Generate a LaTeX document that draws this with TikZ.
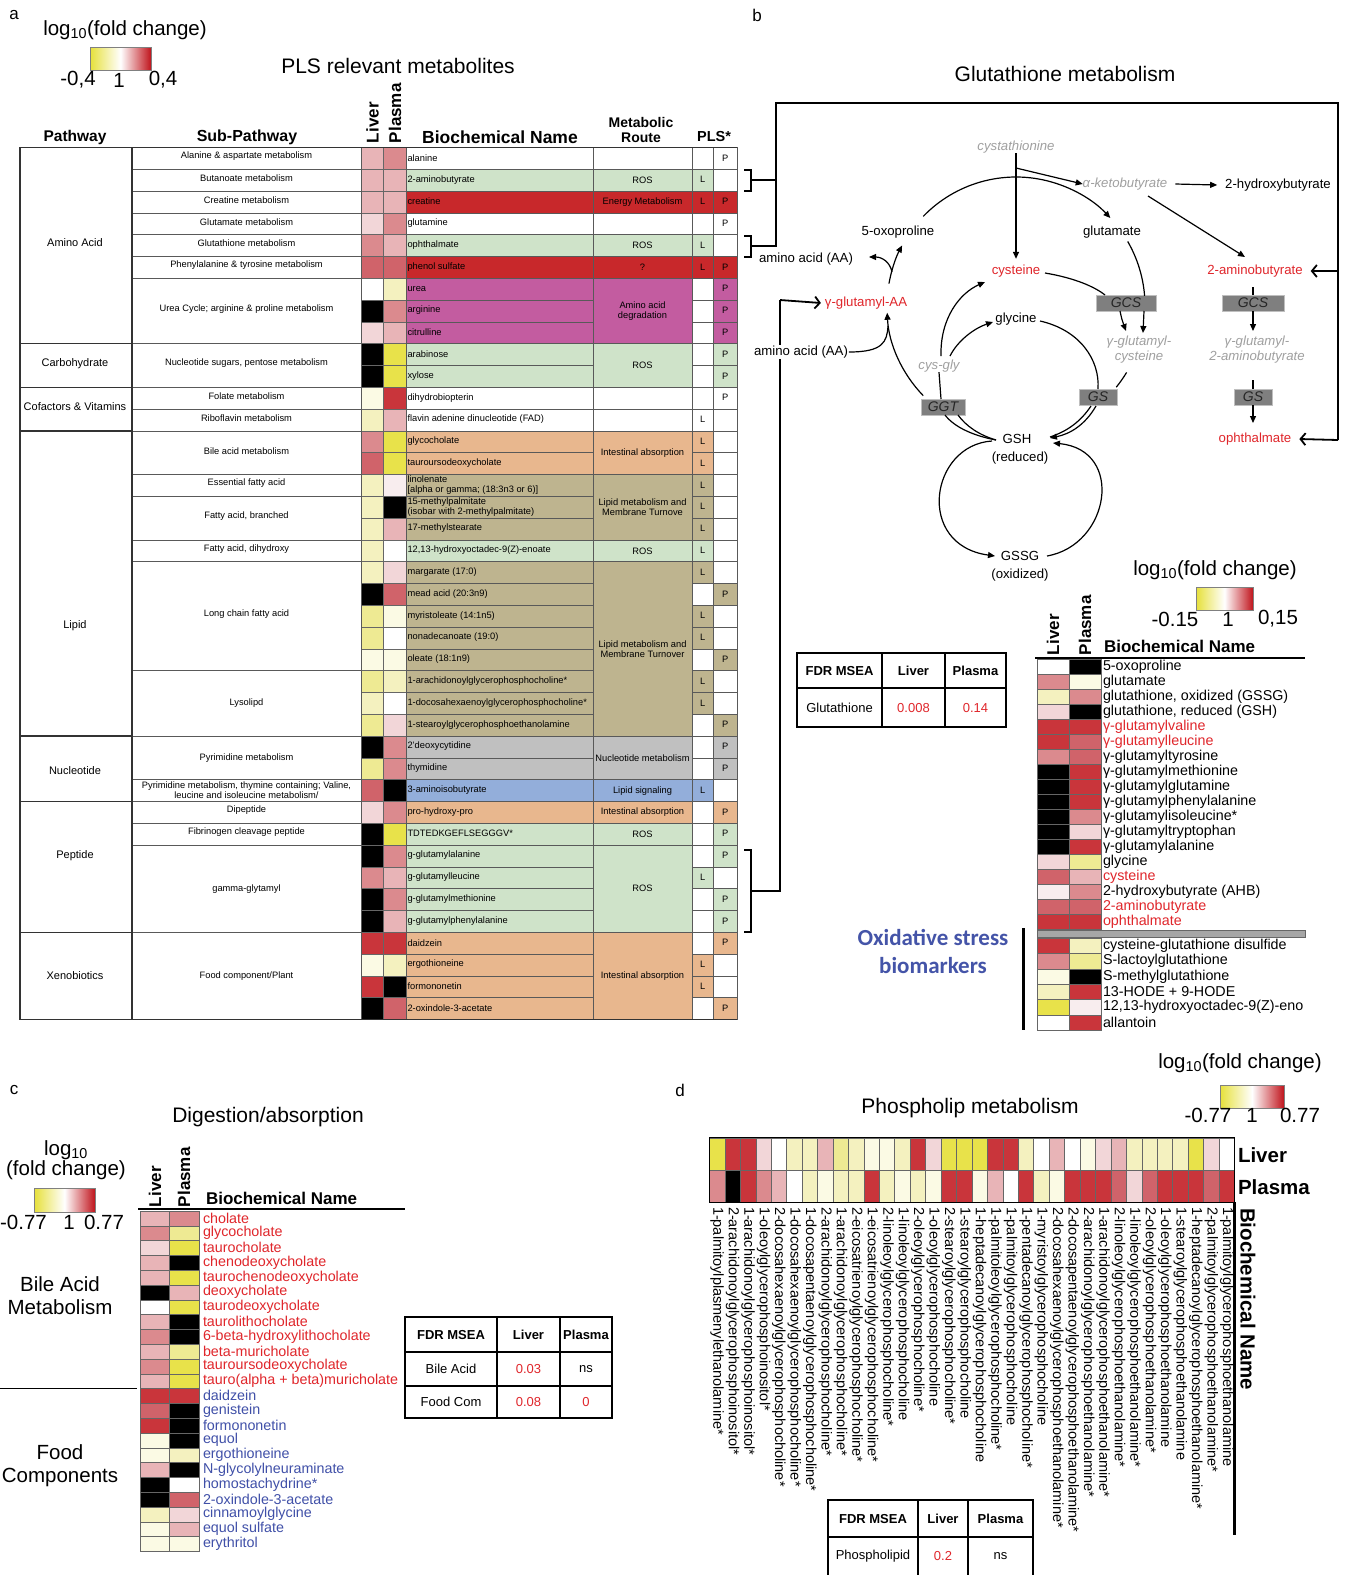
\documentclass[tikz,border=0pt]{standalone}
\usepackage{fontspec}
\setmainfont{Liberation Sans}
\newfontfamily\carlito{Carlito}
\usetikzlibrary{arrows.meta}
\definecolor{hY3}{HTML}{E8E24A}
\definecolor{hY2}{HTML}{EEEA93}
\definecolor{hY1}{HTML}{F4F1BF}
\definecolor{hY0}{HTML}{FBFAE4}
\definecolor{hW}{HTML}{FFFFFF}
\definecolor{hR0}{HTML}{F8EDEE}
\definecolor{hR1}{HTML}{F2D6D8}
\definecolor{hR2}{HTML}{E8B4B7}
\definecolor{hR3}{HTML}{DB8A8E}
\definecolor{hR4}{HTML}{D0636A}
\definecolor{hR5}{HTML}{C9353B}
\definecolor{hK}{HTML}{000000}
\definecolor{cG}{HTML}{CFE3C9}
\definecolor{cR}{HTML}{C8282B}
\definecolor{cM}{HTML}{C35CA0}
\definecolor{cO}{HTML}{E8B78E}
\definecolor{cT}{HTML}{BEB48F}
\definecolor{cGr}{HTML}{C0C0C0}
\definecolor{cB}{HTML}{93AEDA}
\definecolor{txR}{HTML}{E0262B}
\definecolor{txB}{HTML}{4050A8}
\definecolor{txG}{HTML}{A0A0A0}
\definecolor{enz}{HTML}{7F7F7F}
\definecolor{oxb}{HTML}{4454A8}
\definecolor{cbY}{HTML}{E6E03A}
\definecolor{cbR}{HTML}{C0141C}
\tikzset{
 every node/.style={inner sep=0pt,outer sep=0pt},
 hcell/.style={draw=black!60, line width=0.6pt},
 tline/.style={draw=black!65, line width=0.7pt},
 tlineb/.style={draw=black!80, line width=1.3pt},
 ts/.style={font=\fontsize{9.3}{10}\selectfont},
 tp/.style={font=\fontsize{11}{13}\selectfont},
 hdr/.style={font=\bfseries\fontsize{15.5}{17}\selectfont},
 ttl/.style={font=\fontsize{21}{24}\selectfont},
 lg/.style={font=\fontsize{20.5}{24}\selectfont},
 plab/.style={font=\fontsize{17}{20}\selectfont},
 pw/.style={font=\fontsize{13.2}{15}\selectfont},
 pwg/.style={font=\itshape\fontsize{13.2}{15}\selectfont, text=txG},
 enzyme/.style={fill=enz, draw=black!25, line width=0.8pt, minimum height=16pt, minimum width=44pt, font=\itshape\fontsize{14}{15}\selectfont, text=black!85},
 arr/.style={-{Triangle[length=7pt,width=6pt]}, line width=1.2pt},
 ln/.style={line width=1.2pt},
 barb/.style={-{Straight Barb[length=5pt,width=12pt]}, line width=1.8pt},
 brk/.style={line width=1.8pt},
 hn/.style={font=\fontsize{14.3}{15}\selectfont},
 hb/.style={font=\bfseries\fontsize{17}{20}\selectfont},
 ftab/.style={draw=black, line width=1.2pt},
 ft/.style={font=\fontsize{13}{15}\selectfont},
 fth/.style={font=\bfseries\fontsize{13}{15}\selectfont},
 dl/.style={font=\fontsize{14.5}{15}\selectfont},
 dh/.style={font=\bfseries\fontsize{20.5}{23}\selectfont},
 cbar/.style={left color=cbY, right color=cbR, middle color=white, draw=black!50, line width=0.5pt},
 big/.style={font=\fontsize{20.5}{23}\selectfont, align=center},
}
\newcommand\arow[9]{%
 \pgfmathsetmacro\yt{147.5+21.8*#1}%
 \pgfmathsetmacro\yb{\yt+21.8}%
 \pgfmathsetmacro\ym{\yt+10.4}%
 \draw[hcell, fill=h#2] (361,\yt) rectangle (383.5,\yb);
 \draw[hcell, fill=h#3] (383.5,\yt) rectangle (406,\yb);
 \draw[tline, fill=#4] (406,\yt) rectangle (593,\yb);
 \node[ts, anchor=west, align=left] (an#1) at (407.5,\ym) {#5};
 \draw[tline, fill=#6] (692,\yt) rectangle (713.5,\yb);
 \node[ts] (lc#1) at (702.7,\ym) {#7};
 \draw[tline, fill=#8] (713.5,\yt) rectangle (737,\yb);
 \node[ts] (pc#1) at (725.2,\ym) {#9};
}
\newcommand\aroute[4]{%
 \pgfmathsetmacro\yt{147.5+21.8*#1}%
 \pgfmathsetmacro\yb{147.5+21.8*(#1+#2)}%
 \pgfmathsetmacro\ym{(\yt+\yb)/2}%
 \draw[tline, fill=#3] (593,\yt) rectangle (692,\yb);
 \node[ts, align=center] (rt#1) at (642.5,\ym) {#4};
}
\newcommand\asub[4]{%
 \pgfmathsetmacro\yt{147.5+21.8*#1}%
 \pgfmathsetmacro\yb{147.5+21.8*(#1+#2)}%
 \pgfmathsetmacro\ym{(\yt+\yb)/2+(#3)}%
 \draw[tline] (132,\yt) rectangle (361,\yb);
 \node[ts, align=center] (sp#1) at (246.5,\ym) {#4};
}
\newcommand\apath[4]{%
 \pgfmathsetmacro\yt{147.5+21.8*#1}%
 \pgfmathsetmacro\yb{147.5+21.8*(#1+#2)}%
 \draw[tlineb] (20,\yt) rectangle (132,\yb);
 \node[tp] (pw#1) at (75,#3) {#4};
}
\begin{document}
\begin{tikzpicture}[x=1pt,y=-1pt]
\useasboundingbox (0,0) rectangle (1346,1575);
\fill[white] (0,0) rectangle (1346,1575);
% panel letters
\node[plab] (la) at (14,15) {a};
\node[plab] (lb) at (757,15) {b};
\node[plab] (lc) at (14,1090) {c};
\node[plab] (ld) at (680,1090) {d};
%================ PANEL A =================
\node[lg] (alog) at (125,30) {log\textsubscript{10}(fold change)};
\shadedraw[cbar] (90,47) rectangle (151,70);
\node[lg] (am) at (78,80) {-0,4};
\node[lg] (a1) at (119,80) {1};
\node[lg] (ap) at (163,80) {0,4};
\node[ttl] (atl) at (398,66) {PLS relevant metabolites};
\node[hdr] (hpw) at (75,137) {Pathway};
\node[font=\bfseries\fontsize{16}{18}\selectfont] (hsp) at (247,137) {Sub-Pathway};
\node[hb, rotate=90, anchor=west] (hli) at (372.5,143) {Liver};
\node[hb, rotate=90, anchor=west] (hpl) at (395,143) {Plasma};
\node[font=\bfseries\fontsize{17.5}{19}\selectfont] (hbn) at (500,137) {Biochemical Name};
\node[font=\bfseries\fontsize{14}{15.5}\selectfont, align=center] (hmr) at (641,130) {Metabolic\\Route};
\node[font=\bfseries\fontsize{14.5}{16}\selectfont] (hpls) at (714,137) {PLS*};
% rows
\arow{0}{R2}{R3}{white}{alanine}{white}{}{white}{P}
\arow{1}{R2}{R2}{cG}{2-aminobutyrate}{cG}{L}{white}{}
\arow{2}{R2}{R2}{cR}{creatine}{cR}{L}{cR}{P}
\arow{3}{R1}{R3}{white}{glutamine}{white}{}{white}{P}
\arow{4}{R3}{R2}{cG}{ophthalmate}{cG}{L}{white}{}
\arow{5}{R4}{R4}{cR}{phenol sulfate}{cR}{L}{cR}{P}
\arow{6}{W}{Y1}{cM}{urea}{white}{}{cM}{P}
\arow{7}{K}{R3}{cM}{arginine}{white}{}{cM}{P}
\arow{8}{R1}{R2}{cM}{citrulline}{white}{}{cM}{P}
\arow{9}{K}{Y3}{cG}{arabinose}{white}{}{cG}{P}
\arow{10}{K}{Y3}{cG}{xylose}{white}{}{cG}{P}
\arow{11}{Y0}{R5}{white}{dihydrobiopterin}{white}{}{white}{P}
\arow{12}{Y1}{R2}{white}{flavin adenine dinucleotide (FAD)}{white}{L}{white}{}
\arow{13}{R3}{Y3}{cO}{glycocholate}{cO}{L}{white}{}
\arow{14}{R4}{Y3}{cO}{tauroursodeoxycholate}{cO}{L}{white}{}
\arow{15}{Y1}{R0}{cT}{linolenate\\{}[alpha or gamma; (18:3n3 or 6)]}{cT}{L}{white}{}
\arow{16}{Y1}{K}{cT}{15-methylpalmitate\\(isobar with 2-methylpalmitate)}{cT}{L}{white}{}
\arow{17}{Y1}{R2}{cT}{17-methylstearate}{cT}{L}{white}{}
\arow{18}{Y1}{W}{cG}{12,13-hydroxyoctadec-9(Z)-enoate}{cG}{L}{white}{}
\arow{19}{Y1}{R1}{cT}{margarate (17:0)}{cT}{L}{white}{}
\arow{20}{K}{R4}{cT}{mead acid (20:3n9)}{white}{}{cT}{P}
\arow{21}{Y2}{Y0}{cT}{myristoleate (14:1n5)}{cT}{L}{white}{}
\arow{22}{Y2}{W}{cT}{nonadecanoate (19:0)}{cT}{L}{white}{}
\arow{23}{Y0}{Y0}{cT}{oleate (18:1n9)}{white}{}{cT}{P}
\arow{24}{Y2}{Y1}{cT}{1-arachidonoylglycerophosphocholine*}{cT}{L}{white}{}
\arow{25}{Y1}{W}{cT}{1-docosahexaenoylglycerophosphocholine*}{cT}{L}{white}{}
\arow{26}{Y2}{R1}{cT}{1-stearoylglycerophosphoethanolamine}{white}{}{cT}{P}
\arow{27}{K}{R3}{cGr}{2'deoxycytidine}{white}{}{cGr}{P}
\arow{28}{Y2}{R3}{cGr}{thymidine}{white}{}{cGr}{P}
\arow{29}{R4}{K}{cB}{3-aminoisobutyrate}{cB}{L}{white}{}
\arow{30}{R1}{R3}{cO}{pro-hydroxy-pro}{white}{}{cO}{P}
\arow{31}{K}{Y3}{cG}{TDTEDKGEFLSEGGGV*}{white}{}{cG}{P}
\arow{32}{K}{R3}{cG}{g-glutamylalanine}{white}{}{cG}{P}
\arow{33}{R3}{R2}{cG}{g-glutamylleucine}{cG}{L}{white}{}
\arow{34}{K}{R3}{cG}{g-glutamylmethionine}{white}{}{cG}{P}
\arow{35}{K}{R2}{cG}{g-glutamylphenylalanine}{white}{}{cG}{P}
\arow{36}{R5}{R5}{cO}{daidzein}{white}{}{cO}{P}
\arow{37}{Y0}{Y1}{cO}{ergothioneine}{cO}{L}{white}{}
\arow{38}{R5}{K}{cO}{formononetin}{cO}{L}{white}{}
\arow{39}{K}{R4}{cO}{2-oxindole-3-acetate}{white}{}{cO}{P}
% routes
\aroute{0}{1}{white}{}
\aroute{1}{1}{cG}{ROS}
\aroute{2}{1}{cR}{Energy Metabolism}
\aroute{3}{1}{white}{}
\aroute{4}{1}{cG}{ROS}
\aroute{5}{1}{cR}{?}
\aroute{6}{3}{cM}{Amino acid\\degradation}
\aroute{9}{2}{cG}{ROS}
\aroute{11}{1}{white}{}
\aroute{12}{1}{white}{}
\aroute{13}{2}{cO}{Intestinal absorption}
\aroute{15}{3}{cT}{Lipid metabolism and\\Membrane Turnove}
\aroute{18}{1}{cG}{ROS}
\aroute{19}{8}{cT}{Lipid metabolism and\\Membrane Turnover}
\aroute{27}{2}{cGr}{Nucleotide metabolism}
\aroute{29}{1}{cB}{Lipid signaling}
\aroute{30}{1}{cO}{Intestinal absorption}
\aroute{31}{1}{cG}{ROS}
\aroute{32}{4}{cG}{ROS}
\aroute{36}{4}{cO}{Intestinal absorption}
% sub-pathways
\asub{0}{1}{-2}{Alanine \& aspartate metabolism}
\asub{1}{1}{-2}{Butanoate metabolism}
\asub{2}{1}{-2}{Creatine metabolism}
\asub{3}{1}{-2}{Glutamate metabolism}
\asub{4}{1}{-2}{Glutathione metabolism}
\asub{5}{1}{-2}{Phenylalanine \& tyrosine metabolism}
\asub{6}{3}{-2}{Urea Cycle; arginine \& proline metabolism}
\asub{9}{2}{-2}{Nucleotide sugars, pentose metabolism}
\asub{11}{1}{-2}{Folate metabolism}
\asub{12}{1}{-2}{Riboflavin metabolism}
\asub{13}{2}{-2}{Bile acid metabolism}
\asub{15}{1}{-2}{Essential fatty acid}
\asub{16}{2}{-2}{Fatty acid, branched}
\asub{18}{1}{-2}{Fatty acid, dihydroxy}
\asub{19}{5}{-2}{Long chain fatty acid}
\asub{24}{3}{0}{Lysolipd}
\asub{27}{2}{0}{Pyrimidine metabolism}
\asub{29}{1}{0}{Pyrimidine metabolism, thymine containing; Valine,\\leucine and isoleucine metabolism/}
\asub{30}{1}{-2}{Dipeptide}
\asub{31}{1}{-2}{Fibrinogen cleavage peptide}
\asub{32}{4}{0}{gamma-glytamyl}
\asub{36}{4}{0}{Food component/Plant}
% pathways
\apath{0}{9}{243}{Amino Acid}
\apath{9}{2}{364}{Carbohydrate}
\apath{11}{2}{407}{Cofactors \& Vitamins}
\apath{13}{14}{626}{Lipid}
\apath{27}{3}{771}{Nucleotide}
\apath{30}{6}{856}{Peptide}
\apath{36}{4}{976}{Xenobiotics}
\draw[tlineb] (20,147.5) -- (737,147.5);
\draw[tlineb] (20,1019.5) -- (737,1019.5);
\draw[tlineb] (20,147.5) -- (20,1019.5);
% brackets from panel a
\draw[brk] (744,170) -- (751,170) -- (751,191) -- (744,191);
\draw[brk] (744,236) -- (751,236) -- (751,257) -- (744,257);
\draw[brk] (744,850) -- (751,850) -- (751,932) -- (744,932);
\coordinate (jt) at (776,103);
\coordinate (jr) at (1338,103);
\draw[brk] (751,180) -- (776,180);
\draw[brk] (751,246) -- (776,246) -- (jt) -- (jr) -- (1338,440);
\coordinate (jb) at (780,300);
\draw[brk] (751,891) -- (780,891) -- (jb);
%================ PANEL B =================
\node[ttl] (btl) at (1065,74) {Glutathione metabolism};
\node[pwg] (cysta) at (1016,147) {cystathionine};
\node[pwg] (akb) at (1125,184) {α-ketobutyrate};
\node[pw] (hb) at (1278,185) {2-hydroxybutyrate};
\node[pw] (oxo) at (898,232) {5-oxoproline};
\node[pw] (glu) at (1112,232) {glutamate};
\node[pw, text=txR] (cys) at (1016,271) {cysteine};
\node[pw, text=txR] (amb) at (1255,271) {2-aminobutyrate};
\node[pw] (aa1) at (806,259) {amino acid (AA)};
\node[pw, text=txR] (gaa) at (866,303) {γ-glutamyl-AA};
\node[pw, fill=white, inner sep=1pt] (aa2) at (801,352) {amino acid (AA)};
\node[pw] (gly) at (1016,319) {glycine};
\node[pwg] (cg) at (939,366) {cys-gly};
\node[enzyme] (ggt) at (943,407) {GGT};
\node[enzyme, minimum width=60pt] (gcs1) at (1126,303) {GCS};
\node[enzyme, minimum width=62pt] (gcs2) at (1253,303) {GCS};
\node[pwg, align=center] (ggc) at (1139,350) {γ-glutamyl-\\cysteine};
\node[pwg, align=center] (gga) at (1257,350) {γ-glutamyl-\\2-aminobutyrate};
\node[enzyme, minimum width=38pt] (gs1) at (1098,397) {GS};
\node[enzyme, minimum width=38pt] (gs2) at (1253,397) {GS};
\node[pw, text=txR] (oph) at (1255,439) {ophthalmate};
\node[pw] (gsh) at (1017,439) {GSH};
\node[pw] (gshr) at (1020,458) {(reduced)};
\node[pw] (gssg) at (1020,556) {GSSG};
\node[pw] (gsso) at (1020,575) {(oxidized)};
\coordinate (oc) at (1016,306);
% bracket arrows
\draw[barb] (1338,271) -- ([xshift=8pt]amb.east);
\draw[barb] (1338,440) -- ([xshift=8pt]oph.east);
\draw[barb] (jb) -- ([xshift=-4pt]gaa.west);
% top connectors
\draw[arr] (cysta.south) -- ([yshift=6pt]cys.north);
\draw[arr] (1016,168) -- (akb.west);
\draw[arr] ([xshift=8pt]akb.east) -- ([xshift=-8pt]hb.west);
\draw[arr] (1148,196) -- (1245,257);
% outer cycle
\draw[arr] ([shift={(-136:129)}]oc) arc[start angle=-136, end angle=-43, radius=129];
\draw[ln] ([shift={(-30:129)}]oc) arc[start angle=-30, end angle=-4.5, radius=129];
\draw[ln] ([shift={(31:129)}]oc) arc[start angle=31, end angle=39, radius=129];
\draw[arr] (1096,406) .. controls (1085,425) and (1070,434) .. (1050,438);
\draw[ln] (1091,406) .. controls (1081,421) and (1068,431) .. (1050,437);
\draw[ln] (996,440) .. controls (975,436) and (955,428) .. (945,415);
\draw[ln] (996,440) .. controls (979,435) and (966,426) .. (958,415);
\draw[arr] ([shift={(136:129)}]oc) arc[start angle=136, end angle=177, radius=129];
\draw[arr] ([shift={(190:129)}]oc) arc[start angle=190, end angle=208, radius=129];
\draw[arr] (892,272) .. controls (890,262) and (882,257) .. (869,257);
\draw[ln] (aa2.east) .. controls (883,352) and (887,342) .. (888,326);
% inner
\draw[ln] (941,399) -- (cg.south);
\draw[arr] (941,356) .. controls (940,318) and (960,293) .. (985,282);
\draw[arr] (950,356) .. controls (958,340) and (975,328) .. (993,322);
\draw[ln] (1040,321) .. controls (1080,330) and (1100,360) .. (gs1.north);
\draw[ln] (1045,273) .. controls (1075,278) and (1095,287) .. (1105,295);
\draw[arr] (1120,311) .. controls (1122,320) .. (1126,331);
\draw[arr] (1144,311) -- (1143,333);
% GSH / GSSG cycle
\draw[arr] (992,441) .. controls (930,445) and (915,545) .. (995,556);
\draw[arr] (1047,556) .. controls (1110,545) and (1125,450) .. (1053,443);
% right branch
\draw[ln] (1253,287) -- (gcs2.north);
\draw[arr] (gcs2.south) -- (1253,331);
\draw[ln] (1253,380) -- (gs2.north);
\draw[arr] (gs2.south) -- (1253,423);
% FDR table b
\draw[ftab] (797,653) rectangle (1006,727);
\draw[ftab] (797,688) -- (1006,688);
\draw[ftab] (882,653) -- (882,727);
\draw[ftab] (945,653) -- (945,727);
\node[fth] (bt1) at (839.5,671) {FDR MSEA};
\node[fth] (bt2) at (913.5,671) {Liver};
\node[fth] (bt3) at (975.5,671) {Plasma};
\node[ft] (bt4) at (839.5,708) {Glutathione};
\node[ft, text=txR] (bt5) at (913.5,708) {0.008};
\node[ft, text=txR] (bt6) at (975.5,708) {0.14};
% heat b legend
\node[lg] (blog) at (1215,570) {log\textsubscript{10}(fold change)};
\shadedraw[cbar] (1196,587) rectangle (1253,610);
\node[lg] (bm) at (1175,619) {-0.15};
\node[lg] (b1) at (1228,619) {1};
\node[lg] (bp) at (1278,619) {0,15};
\node[hb, rotate=90, anchor=west] (bliv) at (1053,655) {Liver};
\node[hb, rotate=90, anchor=west] (bpla) at (1085,655) {Plasma};
\node[hb, anchor=base west] (bbn) at (1104,652) {Biochemical Name};
\draw[line width=1.6pt] (1035,658) -- (1305,658);
\foreach \n/\lv/\pv/\tc [count=\i from 0] in {5-oxoproline/W/K/black, glutamate/R3/Y0/black, {glutathione, oxidized (GSSG)}/Y1/R3/black, {glutathione, reduced (GSH)}/R1/K/black, γ-glutamylvaline/R5/R5/txR, γ-glutamylleucine/R5/R4/txR, γ-glutamyltyrosine/R3/R4/black, γ-glutamylmethionine/K/R5/black, γ-glutamylglutamine/K/R5/black, γ-glutamylphenylalanine/K/R5/black, γ-glutamylisoleucine*/K/R3/black, γ-glutamyltryptophan/K/R1/black, γ-glutamylalanine/K/R5/black, glycine/R1/Y2/black, cysteine/R4/R2/txR, 2-hydroxybutyrate (AHB)/R0/R3/black, 2-aminobutyrate/R4/R4/txR, ophthalmate/R5/R5/txR}{
 \pgfmathsetmacro\yt{659.5+15*\i}
 \pgfmathsetmacro\yb{\yt+15}
 \draw[hcell, fill=h\lv] (1037,\yt) rectangle (1069,\yb);
 \draw[hcell, fill=h\pv] (1069,\yt) rectangle (1101,\yb);
 \node[hn, text=\tc, anchor=west] (bn\i) at (1103,\yt+7.3) {\n};
}
\draw[fill=black!35, draw=black!60, line width=0.6pt] (1037,930) rectangle (1305,937);
\foreach \n/\lv/\pv [count=\i from 0] in {cysteine-glutathione disulfide/R5/Y1, S-lactoylglutathione/R3/Y2, S-methylglutathione/Y0/K, 13-HODE + 9-HODE/Y1/R5, {12,13-hydroxyoctadec-9(Z)-eno}/Y3/R0, allantoin/W/R5}{
 \pgfmathsetmacro\yt{938+15.4*\i}
 \pgfmathsetmacro\yb{\yt+15.4}
 \draw[hcell, fill=h\lv] (1037,\yt) rectangle (1069,\yb);
 \draw[hcell, fill=h\pv] (1069,\yt) rectangle (1101,\yb);
 \node[hn, anchor=west] (bo\i) at (1103,\yt+7.5) {\n};
}
\draw[line width=3pt] (1023,928) -- (1023,1030);
\node[font=\carlito\bfseries\fontsize{23}{26}\selectfont, text=oxb] (ox1) at (933,937) {Oxidative stress};
\node[font=\carlito\bfseries\fontsize{23}{26}\selectfont, text=oxb] (ox2) at (933,966) {biomarkers};
%================ PANEL C =================
\node[ttl] (ctl) at (268,1117) {Digestion/absorption};
\node[lg] (clog) at (66,1150) {log\textsubscript{10}};
\node[lg] (clog2) at (66,1170) {(fold change)};
\shadedraw[cbar] (34,1188) rectangle (95,1212);
\node[lg] (cm) at (23.5,1222) {-0.77};
\node[lg] (c1) at (69,1222) {1};
\node[lg] (cp) at (104,1222) {0.77};
\node[hb, rotate=90, anchor=west] (cliv) at (155,1207) {Liver};
\node[hb, rotate=90, anchor=west] (cpla) at (184,1207) {Plasma};
\node[hb, anchor=base west] (cbn) at (206,1204) {Biochemical Name};
\draw[line width=1.6pt] (138,1209) -- (405,1209);
\foreach \n/\lv/\pv/\tc [count=\i from 0] in {cholate/R2/R3/txR, glycocholate/R3/Y2/txR, taurocholate/R1/Y3/txR, chenodeoxycholate/R2/K/txR, taurochenodeoxycholate/R2/Y3/txR, deoxycholate/K/R2/txR, taurodeoxycholate/W/Y3/txR, taurolithocholate/R2/K/txR, 6-beta-hydroxylithocholate/R3/K/txR, beta-muricholate/R2/Y2/txR, tauroursodeoxycholate/R3/Y3/txR, tauro(alpha + beta)muricholate/R2/Y3/txR, daidzein/R5/R5/txB, genistein/R4/K/txB, formononetin/R5/K/txB, equol/Y0/K/txB, ergothioneine/Y0/Y1/txB, N-glycolylneuraminate/R2/K/txB, homostachydrine*/K/W/txB, 2-oxindole-3-acetate/K/R4/txB, cinnamoylglycine/Y1/R1/txB, equol sulfate/Y0/R2/txB, erythritol/Y0/Y0/txB}{
 \pgfmathsetmacro\yt{1211+14.8*\i}
 \pgfmathsetmacro\yb{\yt+14.8}
 \draw[hcell, fill=h\lv] (140,\yt) rectangle (169.5,\yb);
 \draw[hcell, fill=h\pv] (169.5,\yt) rectangle (199,\yb);
 \node[hn, text=\tc, anchor=west] (cn\i) at (203,\yt+7.2) {\n};
}
\node[big] (cba) at (60,1296) {Bile Acid\\Metabolism};
\draw[line width=1pt] (0,1388) -- (137,1388);
\node[big] (cfc) at (60,1466) {Food\\Components};
\draw[ftab] (405,1317) rectangle (612,1418);
\draw[ftab] (405,1352) -- (612,1352);
\draw[ftab, line width=2pt] (405,1386) -- (612,1386);
\draw[ftab] (497,1317) -- (497,1418);
\draw[ftab] (560,1317) -- (560,1418);
\node[fth] (ct1) at (451,1335) {FDR MSEA};
\node[fth] (ct2) at (528.5,1335) {Liver};
\node[fth] (ct3) at (586,1335) {Plasma};
\node[ft] (ct4) at (451,1369) {Bile Acid};
\node[ft, text=txR] (ct5) at (528.5,1369) {0.03};
\node[ft] (ct6) at (586,1369) {ns};
\node[ft] (ct7) at (451,1402) {Food Com};
\node[ft, text=txR] (ct8) at (528.5,1402) {0.08};
\node[ft, text=txR] (ct9) at (586,1402) {0};
%================ PANEL D =================
\node[ttl] (dtl) at (970,1108) {Phospholip metabolism};
\node[lg] (dlog) at (1240,1063) {log\textsubscript{10}(fold change)};
\shadedraw[cbar] (1220,1085) rectangle (1284,1108);
\node[lg] (dm) at (1208,1115) {-0.77};
\node[lg] (d1) at (1252,1115) {1};
\node[lg] (dp) at (1300,1115) {0.77};
\foreach \n/\lv/\pv [count=\i from 0] in {1-palmitoylplasmenylethanolamine*/Y3/R3, 2-arachidonoylglycerophosphoinositol*/R5/K, 1-arachidonoylglycerophosphoinositol*/R5/R5, 1-oleoylglycerophosphoinositol*/R1/R3, 2-docosahexaenoylglycerophosphocholine*/W/R2, 1-docosahexaenoylglycerophosphocholine*/Y1/W, 1-docosapentaenoylglycerophosphocholine*/Y1/Y1, 2-arachidonoylglycerophosphocholine*/R2/Y0, 1-arachidonoylglycerophosphocholine*/Y2/Y1, 2-eicosatrienoylglycerophosphocholine*/Y1/Y1, 1-eicosatrienoylglycerophosphocholine*/Y0/R5, 2-linoleoylglycerophosphocholine*/Y0/Y1, 1-linoleoylglycerophosphocholine/Y1/Y0, 2-oleoylglycerophosphocholine*/R5/Y1, 1-oleoylglycerophosphocholine/R1/Y0, 2-stearoylglycerophosphocholine*/Y3/R5, 1-stearoylglycerophosphocholine/Y3/R5, 1-heptadecanoylglycerophosphocholine/Y3/Y0, 1-palmitoleoylglycerophosphocholine*/R5/R2, 1-palmitoylglycerophosphocholine/R5/W, 1-pentadecanoylglycerophosphocholine*/Y1/R5, 1-myristoylglycerophosphocholine/W/Y1, 2-docosahexaenoylglycerophosphoethanolamine*/R2/Y0, 2-docosapentaenoylglycerophosphoethanolamine*/W/R5, 2-arachidonoylglycerophosphoethanolamine*/Y0/R5, 1-arachidonoylglycerophosphoethanolamine*/R1/R5, 2-linoleoylglycerophosphoethanolamine*/R2/R4, 1-linoleoylglycerophosphoethanolamine*/Y1/R1, 2-oleoylglycerophosphoethanolamine*/Y1/R4, 1-oleoylglycerophosphoethanolamine/Y1/R5, 1-stearoylglycerophosphoethanolamine/Y1/R5, 1-heptadecanoylglycerophosphoethanolamine*/Y3/R5, 2-palmitoylglycerophosphoethanolamine*/R1/R4, 1-palmitoylglycerophosphoethanolamine/W/R5}{
 \pgfmathsetmacro\xl{709.5+15.44*\i}
 \pgfmathsetmacro\xr{\xl+15.44}
 \draw[hcell, fill=h\lv] (\xl,1138) rectangle (\xr,1170);
 \draw[hcell, fill=h\pv] (\xl,1170) rectangle (\xr,1202);
 \node[dl, rotate=-90, anchor=west] (dn\i) at (\xl+7.72,1207) {\n};
}
\draw[line width=1.6pt] (709.5,1137.5) rectangle (1234.5,1202.5);
\node[dh, anchor=west] (dliv) at (1238,1155) {Liver};
\node[dh, anchor=west] (dpla) at (1238,1187) {Plasma};
\draw[line width=2.4pt] (1234.5,1202) -- (1234.5,1535);
\node[dh, rotate=-90, anchor=west] (dbn) at (1248,1208) {Biochemical Name};
\draw[ftab] (828,1500) rectangle (1033,1590);
\draw[ftab] (828,1537) -- (1033,1537);
\draw[ftab] (918,1500) -- (918,1590);
\draw[ftab] (968,1500) -- (968,1590);
\node[fth] (dt1) at (873,1519) {FDR MSEA};
\node[fth] (dt2) at (943,1519) {Liver};
\node[fth] (dt3) at (1000.5,1519) {Plasma};
\node[ft] (dt4) at (873,1556) {Phospholipid};
\node[ft, text=txR] (dt5) at (943,1556) {0.2};
\node[ft] (dt6) at (1000.5,1556) {ns};
\end{tikzpicture}
\end{document}
